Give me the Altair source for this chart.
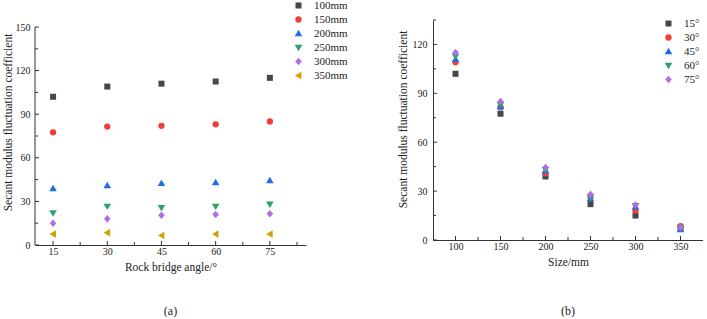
import altair as alt
import pandas as pd

# Rock bridge angles (degrees) and specimen sizes (mm)
angles = [15, 30, 45, 60, 75]
sizes = [100, 150, 200, 250, 300, 350]

# Secant modulus fluctuation coefficient, one list per specimen size (ordered by angle)
coef_100 = [102.0, 109.0, 111.0, 112.5, 115.0]
coef_150 = [77.5, 81.5, 82.0, 83.0, 85.0]
coef_200 = [39.0, 41.0, 42.5, 43.0, 44.5]
coef_250 = [22.0, 26.5, 25.5, 26.5, 28.0]
coef_300 = [15.0, 18.0, 20.5, 21.0, 21.5]
coef_350 = [7.5, 8.5, 6.5, 7.5, 7.5]
coef_by_size = [coef_100, coef_150, coef_200, coef_250, coef_300, coef_350]

size_labels = [f"{s}mm" for s in sizes]
angle_labels = [f"{a}°" for a in angles]

# Axis tick values
xa_major = angles
xa_minor = [22.5, 37.5, 52.5, 67.5, 82.5]
ya_major = [0, 30, 60, 90, 120, 150]
ya_minor = [15, 45, 75, 105, 135]
xb_major = sizes
xb_minor = [125, 175, 225, 275, 325]
yb_major = [0, 30, 60, 90, 120]
yb_minor = [15, 45, 75, 105, 135]

rows = []
for s, s_lbl, vals in zip(sizes, size_labels, coef_by_size):
    for a, a_lbl, v in zip(angles, angle_labels, vals):
        rows.append({"size": s, "angle": a, "value": v,
                     "size_lbl": s_lbl, "angle_lbl": a_lbl})
df = pd.DataFrame(rows)

FONT = "Liberation Serif"
AXC = "#333333"
colors = ["#474747", "#f03c3c", "#1d6fe6", "#2ca36b", "#b06ee6", "#d4a106"]
# marker outlines in Vega's [-1, 1] symbol space
shapes = [
    "M-0.95,-0.95H0.95V0.95H-0.95Z",
    "circle",
    "M0,-1.15L1.2,0.9L-1.2,0.9Z",
    "M0,1.15L1.2,-0.9L-1.2,-0.9Z",
    "M0,-1.2L1.05,0L0,1.2L-1.05,0Z",
    "M-1.15,0L0.9,-1.2L0.9,1.2Z",
]

W_A, H_A = 271, 225
W_B, H_B = 270, 220
TOP_GAP_A = 7  # panel (a) axis stops a little below the panel top

ymax_a = 150 * H_A / (H_A - TOP_GAP_A)

MAJ, MIN = 4, 3
YTITLE = "Secant modulus  fluctuation coefficient"


def tick_layers(xf, yf, xscale, yscale, xax, yax, xmaj, xmin, ymaj, ymin, h):
    """Inward-pointing ticks drawn as short rules."""
    layers = []
    for vals, ln in ((xmaj, MAJ), (xmin, MIN)):
        layers.append(
            alt.Chart(pd.DataFrame({xf: vals})).mark_rule(color=AXC, strokeWidth=1).encode(
                x=alt.X(f"{xf}:Q", scale=xscale, axis=xax),
                y=alt.value(h), y2=alt.value(h - ln)))
    for vals, ln in ((ymaj, MAJ), (ymin, MIN)):
        layers.append(
            alt.Chart(pd.DataFrame({yf: vals})).mark_rule(color=AXC, strokeWidth=1).encode(
                y=alt.Y(f"{yf}:Q", scale=yscale, axis=yax),
                x=alt.value(0), x2=alt.value(ln)))
    return layers


def legend(x, y):
    return alt.Legend(title=None, orient="none", legendX=x, legendY=y,
                      labelFont=FONT, labelFontSize=11, labelColor="#222",
                      labelFontWeight="normal",
                      symbolSize=40, symbolStrokeWidth=0, labelOffset=10,
                      rowPadding=2, padding=0)


# ---- panel (a): coefficient vs rock bridge angle ----
xa = alt.Scale(domain=[10, 85], nice=False, zero=False)
ya = alt.Scale(domain=[0, ymax_a], nice=False)
ax_xa = alt.Axis(values=xa_major, title="Rock bridge angle/°", ticks=False,
                 grid=False, labelPadding=1, titlePadding=5)
ax_ya = alt.Axis(values=ya_major, title=YTITLE, ticks=False, grid=False,
                 domain=False, labelPadding=5, titlePadding=2, titleY=102)

pts_a = alt.Chart(df).mark_point(filled=True, size=40, opacity=1).encode(
    x=alt.X("angle:Q", scale=xa, axis=ax_xa),
    y=alt.Y("value:Q", scale=ya, axis=ax_ya),
    color=alt.Color("size_lbl:N", scale=alt.Scale(domain=size_labels, range=colors),
                    legend=legend(258, -20)),
    shape=alt.Shape("size_lbl:N", scale=alt.Scale(domain=size_labels, range=shapes),
                    legend=legend(258, -20)),
)

yline_a = alt.Chart(pd.DataFrame({"value": [0], "hi": [150]})).mark_rule(
    color=AXC, strokeWidth=1).encode(
    x=alt.value(0), y=alt.Y("value:Q", scale=ya, axis=ax_ya), y2="hi:Q")

panel_a = alt.layer(
    pts_a, yline_a,
    *tick_layers("angle", "value", xa, ya, ax_xa, ax_ya,
                 xa_major, xa_minor, ya_major, ya_minor, H_A),
).properties(
    width=W_A, height=H_A,
    title=alt.TitleParams("(a)", orient="bottom", font=FONT, fontSize=12,
                          fontWeight="normal", color="#222", offset=33),
)

# ---- panel (b): coefficient vs specimen size ----
xb = alt.Scale(domain=[75, 375], nice=False, zero=False)
yb = alt.Scale(domain=[0, 135], nice=False)
ax_xb = alt.Axis(values=xb_major, title="Size/mm", ticks=False, grid=False,
                 labelPadding=1, titlePadding=5)
ax_yb = alt.Axis(values=yb_major, title=YTITLE, ticks=False, grid=False,
                 labelPadding=6, titlePadding=4, titleY=99)

pts_b = alt.Chart(df).mark_point(filled=True, size=40, opacity=1).encode(
    x=alt.X("size:Q", scale=xb, axis=ax_xb),
    y=alt.Y("value:Q", scale=yb, axis=ax_yb),
    color=alt.Color("angle_lbl:N", scale=alt.Scale(domain=angle_labels, range=colors[:5]),
                    legend=legend(230, -2)),
    shape=alt.Shape("angle_lbl:N", scale=alt.Scale(domain=angle_labels, range=shapes[:5]),
                    legend=legend(230, -2)),
    order=alt.Order("angle:Q"),
)

panel_b = alt.layer(
    pts_b,
    *tick_layers("size", "value", xb, yb, ax_xb, ax_yb,
                 xb_major, xb_minor, yb_major, yb_minor, H_B),
).properties(
    width=W_B, height=H_B,
    title=alt.TitleParams("(b)", orient="bottom", font=FONT, fontSize=12,
                          fontWeight="normal", color="#222", offset=38),
)

chart = alt.hconcat(panel_a, panel_b, spacing=127, bounds="flush").resolve_scale(
    color="independent", shape="independent"
).properties(
    padding={"left": 2, "top": 0, "right": 0, "bottom": 0}
).configure(
    background="white"
).configure_view(
    stroke=None
).configure_axis(
    labelFont=FONT, labelFontSize=10, labelColor="#222",
    titleFont=FONT, titleFontSize=11.5, titleFontWeight="normal", titleColor="#222",
    domainColor=AXC, domainWidth=1,
).configure_legend(
    labelFont=FONT, labelFontSize=11, labelColor="#222",
)

chart.save("out.html", embed_options={"renderer": "svg", "actions": False})
